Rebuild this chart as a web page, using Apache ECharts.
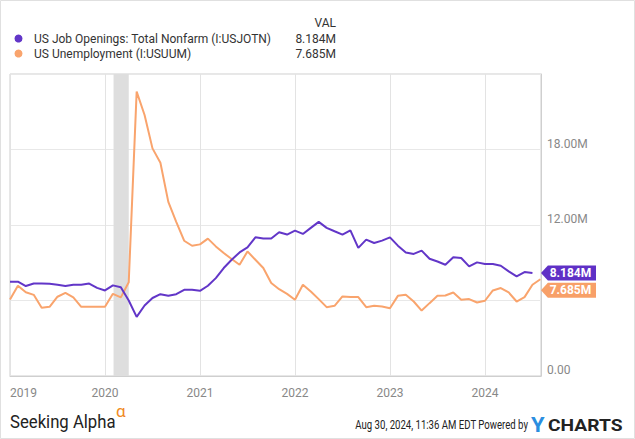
<!DOCTYPE html>
<html><head><meta charset="utf-8">
<script src="https://cdn.jsdelivr.net/npm/echarts@6/dist/echarts.min.js"></script>
<style>html,body{margin:0;padding:0;background:#fff}#c{width:635px;height:439px}</style>
</head><body><div id="c"></div>
<script>
const seriesNames = ['US Job Openings: Total Nonfarm (I:USJOTN)', 'US Unemployment (I:USUUM)'];
const lastLabels = ['8.184M', '7.685M'];
// monthly data, first month = Dec 2018, plotted at month end
const startYear = 2018, startMonth = 12;
const jobOpenings = [7.5, 7.5, 7.15, 7.35, 7.35, 7.33, 7.25, 7.15, 7.25, 7.25, 7.35, 7.0, 6.8,
  7.2, 7.05, 6.0, 4.7, 5.6, 6.2, 6.5, 6.37, 6.5, 6.85, 6.85, 6.77,
  7.17, 7.78, 8.58, 9.24, 9.82, 10.22, 11.02, 10.92, 10.92, 11.42, 11.24, 11.55,
  11.29, 11.77, 12.25, 11.77, 11.5, 11.24, 11.58, 10.18, 10.84, 10.57, 10.76, 11.02,
  10.36, 9.82, 9.7, 9.96, 9.32, 9.1, 8.84, 9.43, 9.38, 8.71, 9.03, 8.9,
  8.9, 8.76, 8.31, 7.91, 8.26, 8.184];
const unemployment = [6.08, 7.18, 6.65, 6.45, 5.42, 5.5, 6.3, 6.6, 6.25, 5.5, 5.5, 5.5, 5.5,
  6.53, 6.25, 7.45, 22.6, 20.74, 18.09, 16.95, 13.84, 12.25, 10.75, 10.35, 10.46,
  10.92, 10.3, 9.77, 9.3, 8.84, 9.9, 9.24, 8.58, 7.39, 6.9, 6.53, 6.06,
  7.25, 6.72, 6.11, 5.47, 5.58, 6.32, 6.27, 6.27, 5.47, 5.58, 5.52, 5.39,
  6.37, 6.45, 5.92, 5.2, 5.79, 6.37, 6.4, 6.64, 6.06, 6.11, 5.84, 5.98,
  6.8, 6.99, 6.64, 5.92, 6.27, 7.25, 7.685];
const yearTicks = [2019, 2020, 2021, 2022, 2023, 2024];
const yTickLabels = {0: '0.00', 12: '12.00M', 18: '18.00M'};
const recession = [2020.09, 2020.25];
const xMin = 2019, xMax = 2024.59;
const colors = ['#6236c8', '#f9a46d'];
const tagColors = ['#5f30c6', '#f8a068'];

function toXY(arr) {
  return arr.map((v, i) => [startYear + (startMonth + i) / 12, v]);
}
const tagPath = 'path://M0,7 L7,0 L56,0 L56,14 L7,14 Z';

const chart = echarts.init(document.getElementById('c'), null, {renderer: 'svg'});
const font = 'Roboto, "Noto Sans", sans-serif';

function tag(i, value, dy) {
  return {
    silent: true,
    symbol: tagPath,
    symbolSize: [55, 15],
    symbolKeepAspect: false,
    symbolOffset: [27.5, dy],
    itemStyle: {color: tagColors[i]},
    label: {show: true, position: 'inside', offset: [2, 0], formatter: lastLabels[i], color: '#fff', fontWeight: 'bold', fontSize: 12, fontFamily: font},
    data: [{coord: [xMax, value]}]
  };
}

chart.setOption({
  animation: false,
  backgroundColor: '#fff',
  textStyle: {fontFamily: font},
  grid: {left: 10, right: 94, top: 74, bottom: 63, show: true, borderColor: '#cfcfcf', borderWidth: 1},
  xAxis: {
    type: 'value', min: xMin, max: xMax, interval: 1,
    axisLine: {show: true, lineStyle: {color: '#cfcfcf'}},
    axisTick: {show: false},
    splitLine: {show: true, lineStyle: {color: '#e3e3e3'}},
    axisLabel: {
      color: '#888', fontSize: 12, margin: 11, alignMinLabel: 'left', showMaxLabel: false,
      formatter: v => yearTicks.includes(v) ? String(v) : ''
    }
  },
  yAxis: {
    type: 'value', position: 'right', min: 0, max: 24, interval: 6,
    axisLine: {show: true, lineStyle: {color: '#cfcfcf'}},
    axisTick: {show: false},
    splitLine: {show: true, lineStyle: {color: '#e8e8e8'}},
    axisLabel: {
      color: '#888', fontSize: 12, margin: 6, verticalAlign: 'bottom',
      formatter: v => yTickLabels[v] || ''
    }
  },
  series: [
    {
      name: seriesNames[0], type: 'line', data: toXY(jobOpenings), showSymbol: false,
      lineStyle: {color: colors[0], width: 2}, itemStyle: {color: colors[0]}, z: 3,
      markArea: {silent: true, itemStyle: {color: '#dedede'}, data: [[{xAxis: recession[0]}, {xAxis: recession[1]}]]},
      markPoint: tag(0, jobOpenings[jobOpenings.length - 1], 0)
    },
    {
      name: seriesNames[1], type: 'line', data: toXY(unemployment), showSymbol: false,
      lineStyle: {color: colors[1], width: 2}, itemStyle: {color: colors[1]}, z: 2,
      markPoint: tag(1, unemployment[unemployment.length - 1], 11)
    }
  ],
  graphic: [
    {type: 'rect', shape: {x: 0.5, y: 0.5, width: 634, height: 438}, style: {fill: 'none', stroke: '#e0e0e0', lineWidth: 1}, silent: true},
    {type: 'text', x: 336, y: 23, style: {text: 'VAL', align: 'right', verticalAlign: 'middle', font: '12px ' + font, fill: '#333'}},
    {type: 'circle', shape: {cx: 18.5, cy: 38.5, r: 4}, style: {fill: colors[0]}},
    {type: 'text', x: 34, y: 38.5, style: {text: seriesNames[0], align: 'left', verticalAlign: 'middle', font: '12px ' + font, fill: '#333'}},
    {type: 'text', x: 336, y: 38.5, style: {text: lastLabels[0], align: 'right', verticalAlign: 'middle', font: '12px ' + font, fill: '#333'}},
    {type: 'circle', shape: {cx: 18.5, cy: 53.5, r: 4}, style: {fill: colors[1]}},
    {type: 'text', x: 34, y: 53.5, style: {text: seriesNames[1], align: 'left', verticalAlign: 'middle', font: '12px ' + font, fill: '#333'}},
    {type: 'text', x: 336, y: 53.5, style: {text: lastLabels[1], align: 'right', verticalAlign: 'middle', font: '12px ' + font, fill: '#333'}},
    {type: 'text', x: 10, y: 421, scaleX: 0.88, style: {text: 'Seeking Alpha', align: 'left', verticalAlign: 'middle', font: '19px ' + font, fill: '#222'}},
    {type: 'text', x: 116, y: 411, style: {text: 'α', align: 'left', verticalAlign: 'middle', font: '17px ' + font, fill: '#f08a24'}},
    {type: 'text', x: 528, y: 425, scaleX: 0.8, style: {text: 'Aug 30, 2024, 11:36 AM EDT Powered by', align: 'right', verticalAlign: 'middle', font: '12px ' + font, fill: '#222'}},
    {type: 'text', x: 531, y: 425, scaleX: 1.1, style: {text: 'Y', align: 'left', verticalAlign: 'middle', font: 'bold 20px ' + font, fill: '#2a8ee0'}},
    {type: 'text', x: 548, y: 425, scaleX: 1.13, style: {text: 'CHARTS', align: 'left', verticalAlign: 'middle', font: 'bold 17px ' + font, fill: '#222'}}
  ]
});
</script>
</body></html>
